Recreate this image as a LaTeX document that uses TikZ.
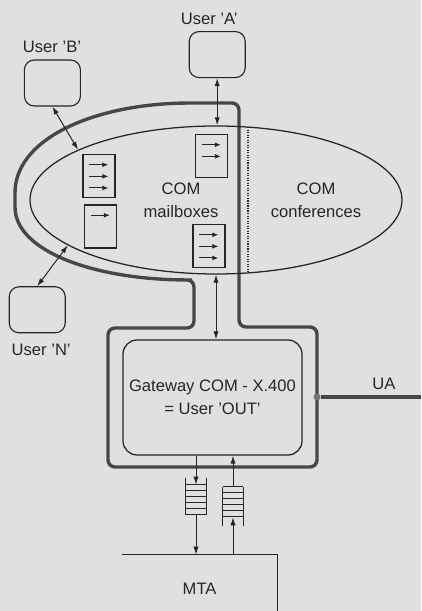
\documentclass[tikz,border=0pt]{standalone}
\usepackage{fontspec}
\setmainfont{Liberation Sans}
\usetikzlibrary{arrows.meta, positioning, calc, shapes.geometric}

\begin{document}
\begin{tikzpicture}[
    font=\fontsize{11.8}{16.5}\selectfont,
    color=black!85,
    user/.style  = {draw, rounded corners=7pt, line width=0.8pt, minimum width=1.4cm, minimum height=1.15cm, inner sep=0pt},
    com/.style   = {ellipse, draw, line width=0.9pt, minimum width=9.3cm, minimum height=3.7cm, inner sep=0pt},
    mbox/.style  = {draw, line width=0.75pt, minimum width=0.8cm, minimum height=1.075cm, inner sep=0pt},
    marr/.style  = {-{Latex[length=1.5mm,width=1.2mm]}, line width=0.75pt},
    link/.style  = {{Latex[length=2mm,width=1.3mm]}-{Latex[length=2mm,width=1.3mm]}, line width=0.7pt},
    flow/.style  = {-{Latex[length=2mm,width=1.3mm]}, line width=0.7pt},
    wall/.style  = {draw=black!72, line width=2.4pt, rounded corners=5pt},
    gate/.style  = {draw, rounded corners=10pt, line width=0.9pt, minimum width=4.475cm, minimum height=2.875cm, align=center},
    queue/.style = {minimum width=0.5cm, minimum height=0.75cm, inner sep=0pt},
    mta/.style   = {minimum width=3.875cm, minimum height=1.7cm, inner sep=0pt},
    jdot/.style  = {circle, fill=black!55, inner sep=0pt, minimum size=5pt}
  ]

  % --- paper ---
  \fill[black!12] (0,0) rectangle (10.525,15.275);
  \useasboundingbox (0,0) rectangle (10.525,15.275);

  % --- COM system border (heavy line) ---
  \path[wall] (5.975,12.7) -- (5.975,7.1) -- (7.925,7.1) -- (7.925,3.6) -- (2.7,3.6)
       -- (2.7,7.075) -- (4.85,7.075) -- (4.85,8.275) -- (4.625,8.275)
       .. controls (2.25,8.325) and (0.375,9.025) .. (0.375,10.275)
       .. controls (0.375,11.775) and (2.25,12.625) .. (4.625,12.7) -- cycle;

  % --- COM ellipse ---
  \node[com] (ell) at (5.4,10.275) {};
  \draw[densely dotted, line width=0.8pt] (6.2,12.1) -- (6.2,8.45);
  \node[align=center] (mbx) at (4.525,10.275) {COM\\mailboxes};
  \node[align=center] (cnf) at (7.9,10.275) {COM\\conferences};

  % --- mailboxes ---
  \node[mbox] (mb1) at (2.475,10.875) {};
  \node[mbox] (mb2) at (2.5125,9.6125) {};
  \node[mbox] (mb3) at (5.2875,11.375) {};
  \node[mbox] (mb4) at (5.225,9.125) {};
  \foreach \b/\n in {mb1/3, mb2/1, mb3/2, mb4/3}
    \foreach \k in {1,...,\n}
      \draw[marr] ($(\b.north)+(-0.24,0.02-0.29*\k)$) -- ++(0.475,0);

  % --- users ---
  \node[user] (usrB) at (1.31,13.2) {};
  \node[user] (usrA) at (5.43,13.91) {};
  \node[user] (usrN) at (0.93,7.53) {};
  \node (labB) at (1.30,14.1) {User 'B'};
  \node (labA) at (5.23,14.8) {User 'A'};
  \node (labN) at (1.03,6.53) {User 'N'};

  \draw[link] (usrA.south) -- (usrA.south |- ell.north);
  \draw[link] (usrB.south) -- (ell.160);
  \draw[link] (ell.197) -- (usrN.north);

  % --- gateway ---
  \node[gate] (gw) at (5.3125,5.3375) {Gateway COM - X.400\\= User 'OUT'};
  \draw[link] (ell.south) -- (ell.south |- gw.north);

  % --- UA line ---
  \node[jdot] (uaj) at (7.925,5.35) {};
  \coordinate (uae) at (10.525,5.35);
  \draw[wall] (uaj) -- (uae);
  \node (ua) at (9.6,5.675) {UA};

  % --- queues and MTA ---
  \node[queue] (qout) at (4.9,2.775) {};
  \node[queue] (qin)  at (5.825,2.725) {};
  \foreach \k in {0,...,5} {
    \draw[line width=0.7pt] ($(qout.north west)+(0,-0.15*\k)$) -- ($(qout.north east)+(0,-0.15*\k)$);
    \draw[line width=0.7pt] ($(qin.north west)+(0,-0.15*\k)$) -- ($(qin.north east)+(0,-0.15*\k)$);
  }
  \draw[line width=0.7pt] ($(qout.north west)+(0,0.175)$) -- (qout.south west);
  \draw[line width=0.7pt] ($(qout.north east)+(0,0.175)$) -- (qout.south east);
  \draw[line width=0.7pt] (qin.north west) -- ($(qin.south west)+(0,-0.225)$);
  \draw[line width=0.7pt] (qin.north east) -- ($(qin.south east)+(0,-0.225)$);

  \node[mta] (mta) at (4.99,0.55) {MTA};
  \draw[line width=0.8pt] (mta.north west) -- (mta.north east) -- (mta.south east);

  \draw[flow] (qout.north |- gw.south) -- (qout.north);
  \draw[flow] (qout.south) -- (qout.south |- mta.north);
  \draw[flow] (qin.south |- mta.north) -- (qin.south);
  \draw[flow] (qin.north) -- (qin.north |- gw.south);

\end{tikzpicture}
\end{document}
